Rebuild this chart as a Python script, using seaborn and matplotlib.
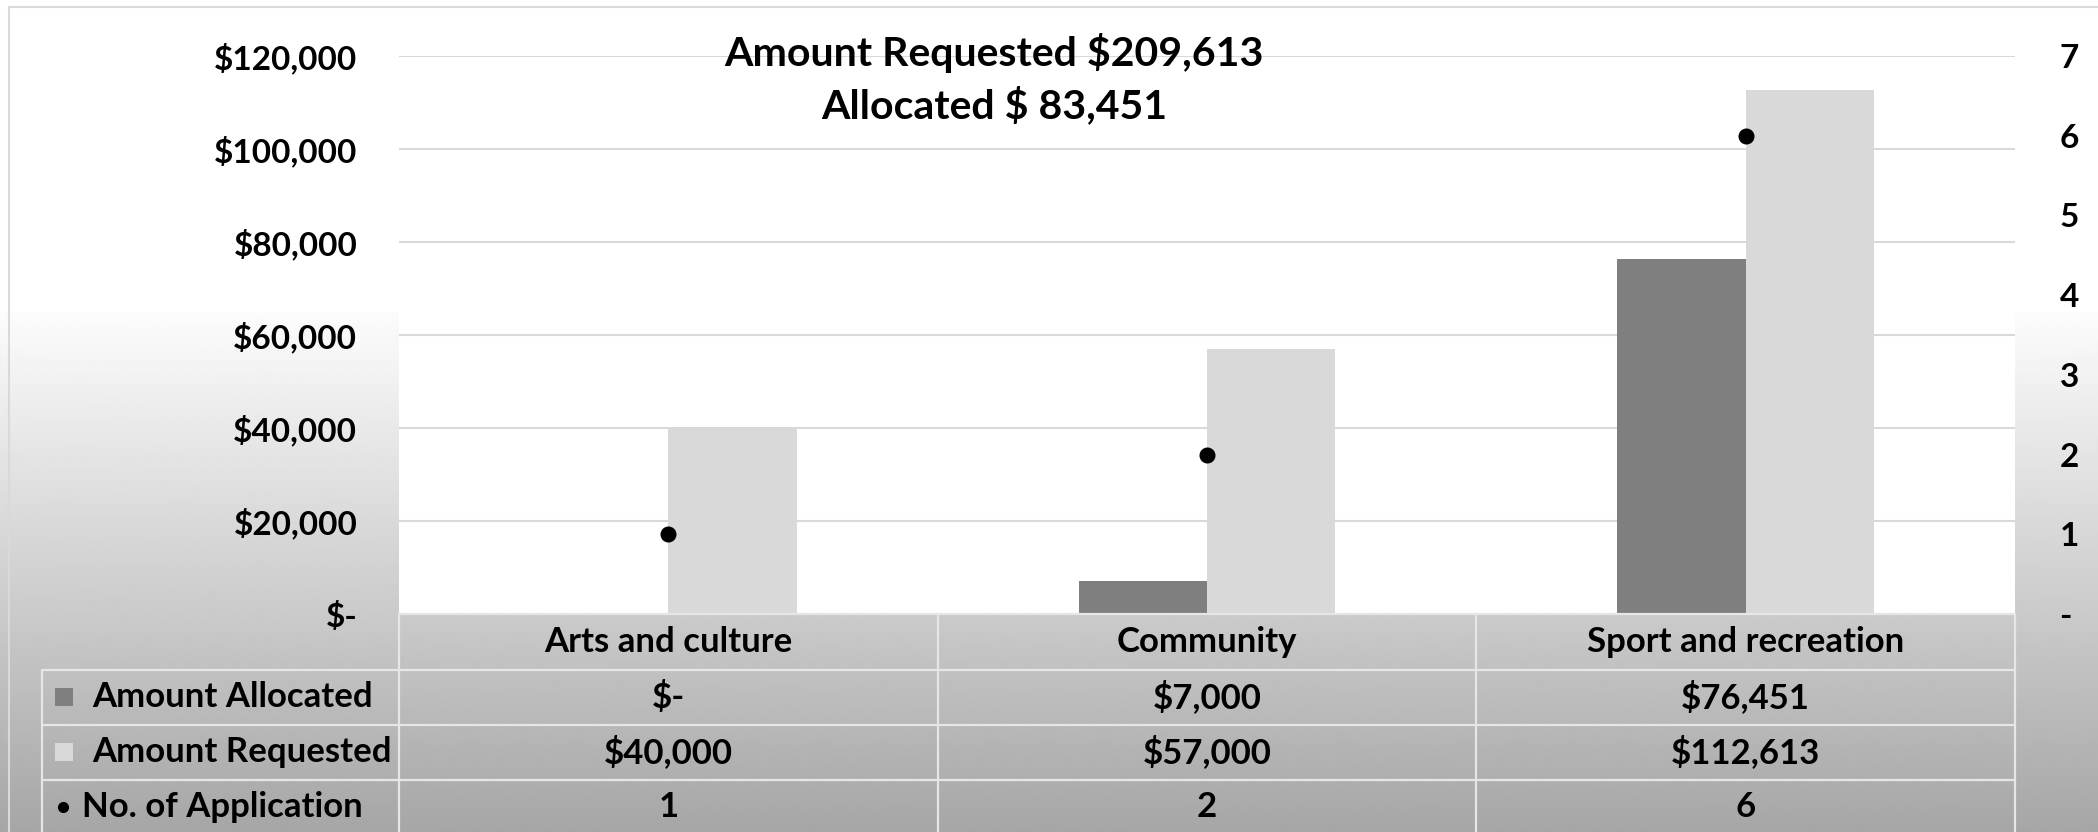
import numpy as np
import pandas as pd
import matplotlib
matplotlib.use("Agg")
import matplotlib.pyplot as plt
import matplotlib.transforms as mtransforms
from matplotlib.patches import Rectangle
from matplotlib.lines import Line2D
import seaborn as sns

# ---------------- data ----------------
categories = ["Arts and culture", "Community", "Sport and recreation"]
series_names = ["Amount Allocated", "Amount Requested"]
allocated = [0, 7000, 76451]
requested = [40000, 57000, 112613]
applications = [1, 2, 6]

allocated_labels = ["$-", "$7,000", "$76,451"]
requested_labels = ["$40,000", "$57,000", "$112,613"]
application_labels = ["1", "2", "6"]
row_labels = ["Amount Allocated", "Amount Requested", "No. of Application"]

left_ticks = [0, 20000, 40000, 60000, 80000, 100000, 120000]
left_tick_labels = ["$-", "$20,000", "$40,000", "$60,000", "$80,000", "$100,000", "$120,000"]
right_ticks = [0, 1, 2, 3, 4, 5, 6, 7]
right_tick_labels = ["-", "1", "2", "3", "4", "5", "6", "7"]

title_lines = ["Amount Requested $209,613", "Allocated $ 83,451"]

# ---------------- style ----------------
sns.set_theme(style="white")
plt.rcParams["font.family"] = ["Lato", "DejaVu Sans"]
plt.rcParams["font.weight"] = "bold"

W, H = 2098, 832
DPI = 100
fig = plt.figure(figsize=(W / DPI, H / DPI), dpi=DPI)
fig.patch.set_facecolor("white")


def fx(px):
    return px / W


def fy(py):
    return 1 - py / H


# background gradient (white on top, grey towards the bottom)
bg = fig.add_axes([0, 0, 1, 1], zorder=-5)
rows = np.arange(H)
vals = np.where(rows < 312, 255.0, 252.0 - (rows - 312) / (H - 312) * (252.0 - 166.0))
grad = np.repeat((vals / 255.0)[:, None], 4, axis=1)
bg.imshow(grad, aspect="auto", cmap="gray", vmin=0, vmax=1,
          extent=[0, 1, 0, 1], interpolation="bilinear")
bg.set_axis_off()

# chart border (top / left)
border_c = "#d9d9d9"
fig.add_artist(Line2D([fx(9), 1], [fy(7), fy(7)], transform=fig.transFigure,
                      color=border_c, lw=1.5))
fig.add_artist(Line2D([fx(9), fx(9)], [fy(7), 0], transform=fig.transFigure,
                      color=border_c, lw=1.5))

# plot area
left, right, top, bottom = 399, 2015, 56, 614
ax = fig.add_axes([fx(left), fy(bottom), (right - left) / W, (bottom - top) / H])
ax.set_facecolor("white")

df = pd.DataFrame({
    "Category": categories * 2,
    "Series": [series_names[0]] * 3 + [series_names[1]] * 3,
    "Amount": allocated + requested,
})

sns.barplot(data=df, x="Category", y="Amount", hue="Series",
            order=categories, hue_order=series_names,
            palette=["#7f7f7f", "#d9d9d9"], saturation=1,
            width=0.476, gap=0, linewidth=0, errorbar=None,
            legend=False, ax=ax)

ax.set_ylim(0, 120000)
ax.set_xlim(-0.5, 2.5)
ax.set_yticks(left_ticks)
ax.set_yticklabels(left_tick_labels)
ax.yaxis.grid(True, color="#d9d9d9", linewidth=1.5)
ax.set_axisbelow(True)
ax.tick_params(axis="y", length=0, pad=30, labelsize=24, labelcolor="black")
ax.tick_params(axis="x", bottom=False, labelbottom=False)
for lab in ax.get_yticklabels():
    lab.set_fontweight("bold")
ax.set_xlabel("")
ax.set_ylabel("")
for s in ax.spines.values():
    s.set_visible(False)

# secondary axis: number of applications
ax2 = ax.twinx()
sns.pointplot(x=categories, y=applications, order=categories, ax=ax2,
              color="black", linestyle="none", markers="o", markersize=9.5,
              errorbar=None)
ax2.set_ylim(0, 7)
ax2.set_xlim(-0.5, 2.5)
ax2.set_yticks(right_ticks)
ax2.set_yticklabels(right_tick_labels)
ax2.tick_params(axis="y", length=0, pad=32, labelsize=24, labelcolor="black")
ax2.tick_params(axis="x", bottom=False, labelbottom=False)
for lab in ax2.get_yticklabels():
    lab.set_fontweight("bold")
ax2.set_ylabel("")
ax2.set_xlabel("")
ax2.grid(False)
for s in ax2.spines.values():
    s.set_visible(False)

# title inside plot area
fig.text(fx(994), fy(53), title_lines[0], ha="center", va="center",
         fontsize=29.5, fontweight="bold", color="black")
fig.text(fx(994), fy(106), title_lines[1], ha="center", va="center",
         fontsize=29.5, fontweight="bold", color="black")

# ---------------- data table ----------------
tc = "#e6e6e6"
tlw = 1.6
tfs = 25
row_edges = [614, 670, 725, 780]
row_centers = [642, 697, 752, 807]

# horizontal lines
fig.add_artist(Line2D([fx(left), fx(right)], [fy(614), fy(614)],
                      transform=fig.transFigure, color=tc, lw=tlw))
for ye in row_edges[1:]:
    fig.add_artist(Line2D([fx(42), fx(right)], [fy(ye), fy(ye)],
                          transform=fig.transFigure, color=tc, lw=tlw))
# vertical lines at category boundaries (data coordinates for x)
blend = mtransforms.blended_transform_factory(ax.transData, fig.transFigure)
for xb in [-0.5, 0.5, 1.5, 2.5]:
    fig.add_artist(Line2D([xb, xb], [fy(614), 0], transform=blend,
                          color=tc, lw=tlw))
fig.add_artist(Line2D([fx(42), fx(42)], [fy(670), 0],
                      transform=fig.transFigure, color=tc, lw=tlw))

# header row: category names
for i, cat in enumerate(categories):
    fig.text(i, fy(row_centers[0]), cat, transform=blend, ha="center",
             va="center", fontsize=tfs, fontweight="bold", color="black")
# value rows
for r, labels in enumerate([allocated_labels, requested_labels, application_labels]):
    for i, txt in enumerate(labels):
        fig.text(i, fy(row_centers[r + 1]), txt, transform=blend, ha="center",
                 va="center", fontsize=tfs, fontweight="bold", color="black")

# legend column
key_colors = ["#7f7f7f", "#d9d9d9"]
for r in range(2):
    cy = row_centers[r + 1]
    fig.add_artist(Rectangle((fx(55), fy(cy + 9)), 18 / W, 18 / H,
                             transform=fig.transFigure, facecolor=key_colors[r],
                             edgecolor="none"))
    fig.text(fx(92), fy(cy), row_labels[r], ha="left", va="center",
             fontsize=tfs, fontweight="bold", color="black")
fig.add_artist(Line2D([fx(63)], [fy(row_centers[3])], transform=fig.transFigure,
                      marker="o", markersize=7, color="black", linestyle="none"))
fig.text(fx(82), fy(row_centers[3]), row_labels[2], ha="left", va="center",
         fontsize=tfs, fontweight="bold", color="black")

fig.savefig("out.png", dpi=DPI)
